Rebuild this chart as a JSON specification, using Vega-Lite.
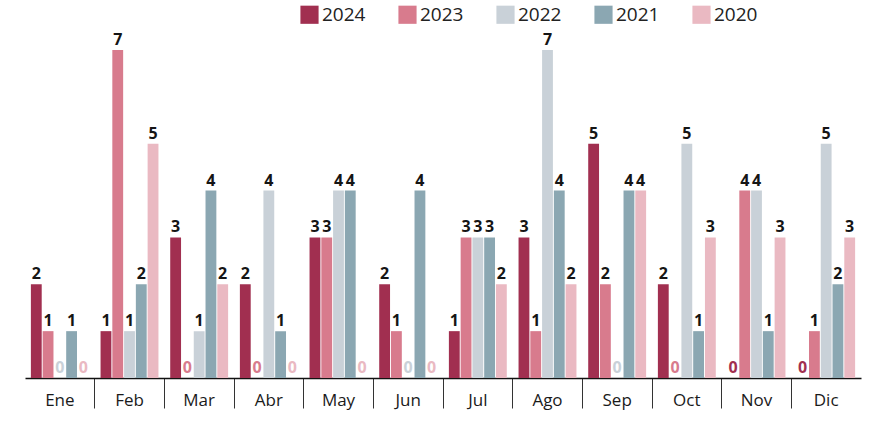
{
  "$schema": "https://vega.github.io/schema/vega-lite/v6.json",
  "width": 836,
  "height": 335,
  "autosize": "none",
  "padding": {"left": 25, "top": 43, "right": 9, "bottom": 45},
  "background": "white",
  "config": {"view": {"stroke": null}, "font": "Open Sans"},
  "data": {"values": [
    {"mes": "Ene", "anio": "2024", "casos": 2}, {"mes": "Ene", "anio": "2023", "casos": 1}, {"mes": "Ene", "anio": "2022", "casos": 0}, {"mes": "Ene", "anio": "2021", "casos": 1}, {"mes": "Ene", "anio": "2020", "casos": 0},
    {"mes": "Feb", "anio": "2024", "casos": 1}, {"mes": "Feb", "anio": "2023", "casos": 7}, {"mes": "Feb", "anio": "2022", "casos": 1}, {"mes": "Feb", "anio": "2021", "casos": 2}, {"mes": "Feb", "anio": "2020", "casos": 5},
    {"mes": "Mar", "anio": "2024", "casos": 3}, {"mes": "Mar", "anio": "2023", "casos": 0}, {"mes": "Mar", "anio": "2022", "casos": 1}, {"mes": "Mar", "anio": "2021", "casos": 4}, {"mes": "Mar", "anio": "2020", "casos": 2},
    {"mes": "Abr", "anio": "2024", "casos": 2}, {"mes": "Abr", "anio": "2023", "casos": 0}, {"mes": "Abr", "anio": "2022", "casos": 4}, {"mes": "Abr", "anio": "2021", "casos": 1}, {"mes": "Abr", "anio": "2020", "casos": 0},
    {"mes": "May", "anio": "2024", "casos": 3}, {"mes": "May", "anio": "2023", "casos": 3}, {"mes": "May", "anio": "2022", "casos": 4}, {"mes": "May", "anio": "2021", "casos": 4}, {"mes": "May", "anio": "2020", "casos": 0},
    {"mes": "Jun", "anio": "2024", "casos": 2}, {"mes": "Jun", "anio": "2023", "casos": 1}, {"mes": "Jun", "anio": "2022", "casos": 0}, {"mes": "Jun", "anio": "2021", "casos": 4}, {"mes": "Jun", "anio": "2020", "casos": 0},
    {"mes": "Jul", "anio": "2024", "casos": 1}, {"mes": "Jul", "anio": "2023", "casos": 3}, {"mes": "Jul", "anio": "2022", "casos": 3}, {"mes": "Jul", "anio": "2021", "casos": 3}, {"mes": "Jul", "anio": "2020", "casos": 2},
    {"mes": "Ago", "anio": "2024", "casos": 3}, {"mes": "Ago", "anio": "2023", "casos": 1}, {"mes": "Ago", "anio": "2022", "casos": 7}, {"mes": "Ago", "anio": "2021", "casos": 4}, {"mes": "Ago", "anio": "2020", "casos": 2},
    {"mes": "Sep", "anio": "2024", "casos": 5}, {"mes": "Sep", "anio": "2023", "casos": 2}, {"mes": "Sep", "anio": "2022", "casos": 0}, {"mes": "Sep", "anio": "2021", "casos": 4}, {"mes": "Sep", "anio": "2020", "casos": 4},
    {"mes": "Oct", "anio": "2024", "casos": 2}, {"mes": "Oct", "anio": "2023", "casos": 0}, {"mes": "Oct", "anio": "2022", "casos": 5}, {"mes": "Oct", "anio": "2021", "casos": 1}, {"mes": "Oct", "anio": "2020", "casos": 3},
    {"mes": "Nov", "anio": "2024", "casos": 0}, {"mes": "Nov", "anio": "2023", "casos": 4}, {"mes": "Nov", "anio": "2022", "casos": 4}, {"mes": "Nov", "anio": "2021", "casos": 1}, {"mes": "Nov", "anio": "2020", "casos": 3},
    {"mes": "Dic", "anio": "2024", "casos": 0}, {"mes": "Dic", "anio": "2023", "casos": 1}, {"mes": "Dic", "anio": "2022", "casos": 5}, {"mes": "Dic", "anio": "2021", "casos": 2}, {"mes": "Dic", "anio": "2020", "casos": 3}
  ]},
  "encoding": {
    "x": {
      "field": "mes", "type": "nominal",
      "sort": ["Ene", "Feb", "Mar", "Abr", "May", "Jun", "Jul", "Ago", "Sep", "Oct", "Nov", "Dic"],
      "scale": {"paddingInner": 0, "paddingOuter": 0},
      "axis": {
        "title": null, "labelAngle": 0, "bandPosition": 0,
        "domainColor": "#111", "domainWidth": 1.5,
        "tickSize": 30, "tickWidth": 1,
        "tickColor": {"condition": {"test": "datum.value === 'Ene'", "value": "transparent"}, "value": "#333"},
        "labelPadding": -16, "labelFontSize": 17, "labelColor": "#1a1a1a", "labelFont": "Open Sans", "labelBaseline": "top"
      }
    },
    "xOffset": {
      "field": "anio", "type": "nominal",
      "sort": ["2024", "2023", "2022", "2021", "2020"],
      "scale": {"paddingInner": 0.08, "paddingOuter": 0.5}
    },
    "y": {
      "field": "casos", "type": "quantitative",
      "scale": {"domain": [0, 7.15], "nice": false},
      "axis": null
    }
  },
  "layer": [
    {
      "mark": {"type": "bar"},
      "encoding": {
        "color": {
          "field": "anio", "type": "nominal",
          "scale": {
            "domain": ["2024", "2023", "2022", "2021", "2020"],
            "range": ["#a12f50", "#d87b8d", "#c9d1d8", "#8ba7b2", "#eab9c2"]
          },
          "legend": {
            "title": null, "orient": "none", "direction": "horizontal",
            "legendX": 275, "legendY": -38,
            "symbolType": "square", "symbolSize": 330, "symbolStrokeWidth": 0,
            "labelFontSize": 19, "labelColor": "#222", "labelFont": "Open Sans",
            "columnPadding": 32, "labelOffset": 3
          }
        }
      }
    },
    {
      "mark": {"type": "text", "baseline": "bottom", "dy": -2, "fontSize": 16, "fontWeight": "bold", "font": "Open Sans"},
      "encoding": {
        "text": {"field": "casos", "type": "quantitative"},
        "color": {
          "condition": {"test": "datum.casos > 0", "value": "#151515"},
          "field": "anio", "type": "nominal", "legend": null
        }
      }
    }
  ]
}
